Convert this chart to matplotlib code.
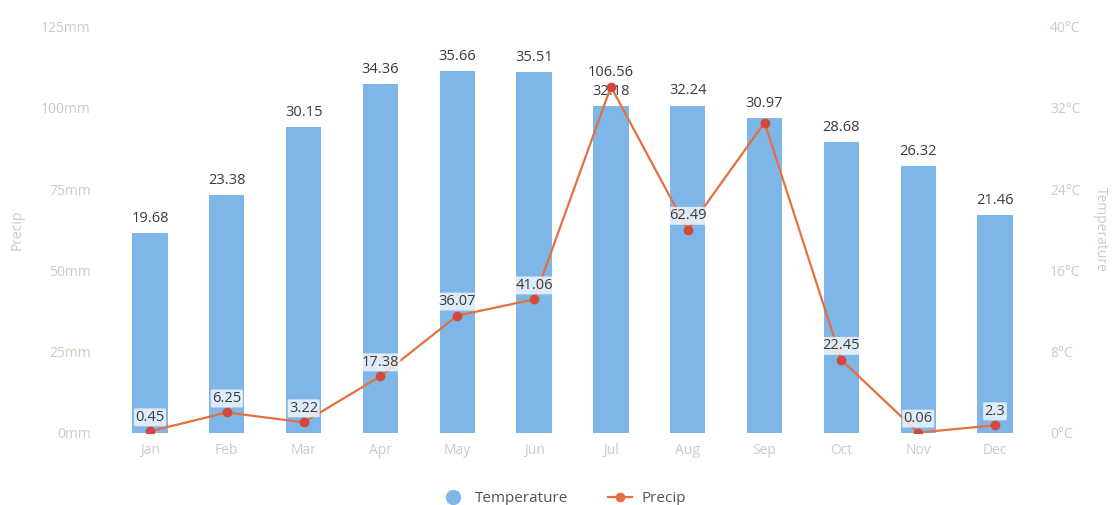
import matplotlib
matplotlib.use('Agg')
import matplotlib.pyplot as plt
from matplotlib.lines import Line2D

plt.rcParams['font.family'] = ['Open Sans', 'DejaVu Sans']

months = ['Jan', 'Feb', 'Mar', 'Apr', 'May', 'Jun', 'Jul', 'Aug', 'Sep', 'Oct', 'Nov', 'Dec']
temperature = [19.68, 23.38, 30.15, 34.36, 35.66, 35.51, 32.18, 32.24, 30.97, 28.68, 26.32, 21.46]
precip = [0.45, 6.25, 3.22, 17.38, 36.07, 41.06, 106.56, 62.49, 95.5, 22.45, 0.06, 2.3]
# Sep precip label is hidden behind the bar label in the original
precip_labels = ['0.45', '6.25', '3.22', '17.38', '36.07', '41.06', '106.56', '62.49', '', '22.45', '0.06', '2.3']
temp_ticks = [0, 8, 16, 24, 32, 40]
precip_ticks = [0, 25, 50, 75, 100, 125]

bar_c = '#7fb6e8'
line_c = '#e4703f'
dot_c = '#d2493b'
tick_c = '#c9cdbd'
txt_c = '#3a3a3a'

fig = plt.figure(figsize=(11.16, 5.05), dpi=100)
ax = fig.add_axes([0.100, 0.143, 0.826, 0.804])
ax2 = ax.twinx()

x = range(len(months))
# bars on the right (temperature) axis
ax2.bar(x, temperature, width=0.46, color=bar_c, zorder=1)
for i, t in enumerate(temperature):
    ax2.text(i, t + 0.7, '%.2f' % t, ha='center', va='bottom', fontsize=10.5, color=txt_c)
ax2.set_ylim(0, 40)
ax2.set_yticks(temp_ticks)
ax2.set_yticklabels(['%d°C' % t for t in temp_ticks])
ax2.set_ylabel('Temperature', color=tick_c, fontsize=10, rotation=270, labelpad=20)

# line on the left (precip) axis, drawn over the bars
ax.set_zorder(ax2.get_zorder() + 1)
ax.patch.set_visible(False)
ax.plot(x, precip, color=line_c, lw=1.6, marker='o', ms=6, mfc=dot_c, mec=dot_c, zorder=3)
for i, p in enumerate(precip):
    if precip_labels[i]:
        ax.text(i, p + 2.0, precip_labels[i], ha='center', va='bottom', fontsize=10.5, color=txt_c,
                zorder=4, bbox=dict(boxstyle='round,pad=0.1', fc='white', ec='none', alpha=0.75))
ax.set_ylim(0, 125)
ax.set_yticks(precip_ticks)
ax.set_yticklabels(['%dmm' % p for p in precip_ticks])
ax.set_ylabel('Precip', color=tick_c, fontsize=10, labelpad=12)
ax.set_xlim(-0.5, 11.5)
ax.set_xticks(list(x))
ax.set_xticklabels(months)

for a in (ax, ax2):
    for s in a.spines.values():
        s.set_visible(False)
    a.tick_params(length=0, colors=tick_c, labelsize=10, pad=12)
ax.tick_params(axis='y', pad=15)
ax.tick_params(axis='x', pad=7)

handles = [Line2D([], [], ls='none', marker='o', ms=10, mfc=bar_c, mec=bar_c),
           Line2D([], [], color=line_c, lw=1.6, marker='o', ms=6, mfc=line_c, mec=line_c)]
fig.legend(handles, ['Temperature', 'Precip'], loc='lower center', ncol=2, frameon=False,
           fontsize=11, bbox_to_anchor=(0.505, -0.03), columnspacing=2.6, handlelength=1.6,
           handletextpad=0.6, labelcolor='#555555')

fig.savefig('out.png', dpi=100)
